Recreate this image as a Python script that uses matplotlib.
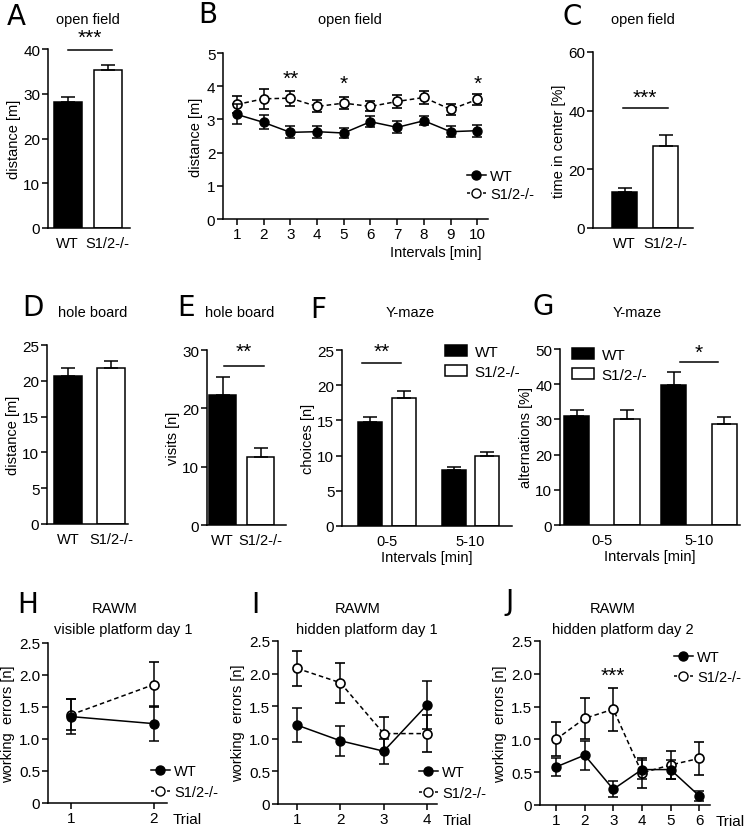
import numpy as np
import matplotlib.pyplot as plt
from matplotlib.patches import Patch
from matplotlib.lines import Line2D

plt.rcParams['font.family'] = ['Liberation Sans', 'DejaVu Sans']
plt.rcParams['font.size'] = 10.5
plt.rcParams['axes.linewidth'] = 1.1

# ---- data ----
groups = ["WT", "S1/2-/-"]
a_mean = [28.2, 35.3]
a_err = [1.0, 1.2]

b_int = list(range(1, 11))
b_wt = [3.15, 2.91, 2.61, 2.63, 2.59, 2.93, 2.76, 2.96, 2.63, 2.66]
b_wt_err = [0.30, 0.21, 0.18, 0.18, 0.15, 0.17, 0.18, 0.14, 0.17, 0.18]
b_ko = [3.45, 3.62, 3.64, 3.39, 3.49, 3.39, 3.54, 3.66, 3.30, 3.60]
b_ko_err = [0.26, 0.30, 0.23, 0.18, 0.19, 0.15, 0.19, 0.20, 0.16, 0.17]

c_mean = [12.2, 28.1]
c_err = [1.4, 3.6]

d_mean = [20.7, 21.8]
d_err = [1.1, 1.0]

e_mean = [22.3, 11.7]
e_err = [3.0, 1.5]

ym_int = ["0-5", "5-10"]
f_wt = [14.8, 7.9]
f_wt_err = [0.75, 0.45]
f_ko = [18.2, 9.95]
f_ko_err = [1.0, 0.55]

g_wt = [30.9, 39.7]
g_wt_err = [1.9, 3.7]
g_ko = [30.0, 28.7]
g_ko_err = [2.7, 1.9]

h_trial = [1, 2]
h_wt = [1.35, 1.24]
h_wt_err = [0.27, 0.27]
h_ko = [1.38, 1.85]
h_ko_err = [0.24, 0.35]

i_trial = [1, 2, 3, 4]
i_wt = [1.21, 0.97, 0.81, 1.52]
i_wt_err = [0.26, 0.23, 0.19, 0.37]
i_ko = [2.08, 1.86, 1.08, 1.08]
i_ko_err = [0.27, 0.31, 0.26, 0.28]

j_trial = [1, 2, 3, 4, 5, 6]
j_wt = [0.58, 0.76, 0.24, 0.54, 0.54, 0.14]
j_wt_err = [0.14, 0.22, 0.12, 0.15, 0.15, 0.08]
j_ko = [1.0, 1.32, 1.46, 0.49, 0.61, 0.71]
j_ko_err = [0.26, 0.31, 0.33, 0.23, 0.22, 0.25]

W, H = 745, 828
fig = plt.figure(figsize=(W / 100, H / 100), dpi=100)

FS = 10.5


def px_axes(l, t, r, b):
    return fig.add_axes([l / W, 1 - b / H, (r - l) / W, (b - t) / H])


def ftext(x, y, s, **kw):
    fig.text(x / W, 1 - y / H, s, **kw)


def style(ax, xticks=False):
    for s in ['top', 'right']:
        ax.spines[s].set_visible(False)
    ax.tick_params(axis='y', direction='out', length=4, width=1.1, pad=1.5, labelsize=11)
    if xticks:
        ax.tick_params(axis='x', direction='out', length=4, width=1.1, pad=2, labelsize=11)
    else:
        ax.tick_params(axis='x', length=0, pad=6, labelsize=FS)


def sig(ax, x0, x1, y, ys, stars):
    ax.plot([x0, x1], [y, y], color='k', lw=1.1, clip_on=False)
    ax.text((x0 + x1) / 2, ys, stars, ha='center', va='center', fontsize=15, clip_on=False)


def two_bars(ax, mean, err, width, xlim, ylim, yticks, ylabel):
    x = np.arange(len(mean))
    ax.bar(x, mean, width=width, color=['black', 'white'], edgecolor='black', linewidth=1.1, zorder=2)
    ax.errorbar(x, mean, yerr=[np.zeros(len(err)), err], fmt='none', ecolor='k',
                elinewidth=1.1, capsize=5, capthick=1.1, zorder=3)
    ax.set_xticks(x)
    ax.set_xticklabels(groups)
    ax.set_xlim(*xlim)
    ax.set_ylim(*ylim)
    ax.set_yticks(yticks)
    ax.set_ylabel(ylabel, fontsize=FS, labelpad=2)
    style(ax)


def grouped_bars(ax, wt, wt_err, ko, ko_err, off, width, xlim, ylim, yticks, ylabel):
    x = np.arange(len(wt))
    ax.bar(x - off, wt, width=width, color='black', edgecolor='black', linewidth=1.1, zorder=2, label='WT')
    ax.bar(x + off, ko, width=width, color='white', edgecolor='black', linewidth=1.1, zorder=2, label='S1/2-/-')
    ax.errorbar(x - off, wt, yerr=[np.zeros(len(wt)), wt_err], fmt='none', ecolor='k',
                elinewidth=1.1, capsize=5, capthick=1.1, zorder=3)
    ax.errorbar(x + off, ko, yerr=[np.zeros(len(ko)), ko_err], fmt='none', ecolor='k',
                elinewidth=1.1, capsize=5, capthick=1.1, zorder=3)
    ax.set_xticks(x)
    ax.set_xticklabels(ym_int)
    ax.set_xlim(*xlim)
    ax.set_ylim(*ylim)
    ax.set_yticks(yticks)
    ax.set_ylabel(ylabel, fontsize=FS, labelpad=2)
    ax.set_xlabel('Intervals [min]', fontsize=FS, labelpad=1)
    style(ax)


def lines(ax, x, wt, wt_err, ko, ko_err, cap=3.5):
    ax.errorbar(x, ko, yerr=ko_err, color='k', lw=1.1, ls=(0, (3, 2)), marker='o', ms=6.5,
                mfc='white', mec='k', mew=1.2, capsize=cap, capthick=1.1, elinewidth=1.1,
                zorder=3, clip_on=False, label='S1/2-/-')
    ax.errorbar(x, wt, yerr=wt_err, color='k', lw=1.1, marker='o', ms=6.5, mfc='k', mec='k',
                capsize=cap, capthick=1.1, elinewidth=1.1, zorder=4, clip_on=False, label='WT')


def line_legend(ax, l, t, spacing=0.4):
    handles = [Line2D([], [], color='k', lw=1.1, marker='o', ms=6.5, mfc='k'),
               Line2D([], [], color='k', lw=1.1, ls=(0, (2, 1.5)), marker='o', ms=6.5, mfc='white')]
    ax.legend(handles, ['WT', 'S1/2-/-'], loc='upper left', bbox_to_anchor=(l / W, 1 - t / H),
              bbox_transform=fig.transFigure, frameon=False, handlelength=1.3, handletextpad=0.3,
              labelspacing=spacing, borderpad=0, borderaxespad=0, fontsize=FS, numpoints=1)


def bar_legend(ax, l, t):
    handles = [Patch(facecolor='black', edgecolor='black', lw=1.1),
               Patch(facecolor='white', edgecolor='black', lw=1.1)]
    ax.legend(handles, ['WT', 'S1/2-/-'], loc='upper left', bbox_to_anchor=(l / W, 1 - t / H),
              bbox_transform=fig.transFigure, frameon=False, handlelength=1.45, handleheight=0.75,
              handletextpad=0.5, labelspacing=0.4, borderpad=0, borderaxespad=0, fontsize=11)


letter_kw = dict(fontsize=20, family='DejaVu Sans', ha='center', va='center')
title_kw = dict(fontsize=FS, ha='center', va='center')

# ---- A ----
ax = px_axes(48, 50, 130, 229)
two_bars(ax, a_mean, a_err, 0.7, (-0.49, 1.56), (0, 40), [0, 10, 20, 30, 40], 'distance [m]')
sig(ax, 0.0, 1.1, 39.7, 42.5, '***')
ftext(16, 17, 'A', **letter_kw)
ftext(88, 20, 'open field', **title_kw)

# ---- B ----
ax = px_axes(223, 54, 488, 220)
lines(ax, b_int, b_wt, b_wt_err, b_ko, b_ko_err)
ax.set_xlim(0.48, 10.4)
ax.set_ylim(0, 5)
ax.set_xticks(b_int)
ax.set_yticks([0, 1, 2, 3, 4, 5])
ax.set_ylabel('distance [m]', fontsize=FS, labelpad=3)
style(ax, xticks=True)
ax.annotate('Intervals [min]', xy=(0.975, 0), xycoords='axes fraction', xytext=(0, -19),
            textcoords='offset points', ha='right', va='top', fontsize=FS)
for xs, ys, st in [(3, 4.25, '**'), (5, 4.1, '*'), (10, 4.1, '*')]:
    ax.text(xs, ys, st, ha='center', va='center', fontsize=15)
line_legend(ax, 467, 170, spacing=0.25)
ftext(208, 15, 'B', **letter_kw)
ftext(350, 20, 'open field', **title_kw)

# ---- C ----
ax = px_axes(593, 53, 693, 229)
two_bars(ax, c_mean, c_err, 0.6, (-0.77, 1.67), (0, 60), [0, 20, 40, 60], 'time in center [%]')
sig(ax, -0.05, 1.05, 40.9, 44.6, '***')
ftext(572, 17, 'C', **letter_kw)
ftext(643, 20, 'open field', **title_kw)

# ---- D ----
ax = px_axes(47, 346, 128, 525)
two_bars(ax, d_mean, d_err, 0.67, (-0.49, 1.4), (0, 25), [0, 5, 10, 15, 20, 25], 'distance [m]')
ftext(33, 308, 'D', **letter_kw)
ftext(93, 313, 'hole board', **title_kw)

# ---- E ----
ax = px_axes(207, 351, 286, 526)
two_bars(ax, e_mean, e_err, 0.72, (-0.41, 1.67), (0, 30), [0, 10, 20, 30], 'visits [n]')
sig(ax, 0.05, 1.08, 27.3, 29.8, '**')
ftext(186, 308, 'E', **letter_kw)
ftext(240, 313, 'hole board', **title_kw)

# ---- F ----
ax = px_axes(342, 351, 512, 527)
grouped_bars(ax, f_wt, f_wt_err, f_ko, f_ko_err, 0.2, 0.29, (-0.54, 1.5), (0, 25),
             [0, 5, 10, 15, 20, 25], 'choices [n]')
sig(ax, -0.3, 0.17, 23.2, 24.8, '**')
bar_legend(ax, 445, 346)
ftext(318, 310, 'F', **letter_kw)
ftext(410, 313, 'Y-maze', **title_kw)

# ---- G ----
ax = px_axes(560, 350, 740, 526)
grouped_bars(ax, g_wt, g_wt_err, g_ko, g_ko_err, 0.26, 0.26, (-0.43, 1.42), (0, 50),
             [0, 10, 20, 30, 40, 50], 'alternations [%]')
sig(ax, 0.8, 1.19, 46.4, 49.0, '*')
bar_legend(ax, 572, 349)
ftext(543, 307, 'G', **letter_kw)
ftext(637, 313, 'Y-maze', **title_kw)

# ---- H, I, J ----
err_ticks = [0, 0.5, 1.0, 1.5, 2.0, 2.5]
err_labels = ['0', '0.5', '1.0', '1.5', '2.0', '2.5']
panels = [
    ((48, 644, 167, 804), h_trial, h_wt, h_wt_err, h_ko, h_ko_err, (0.72, 2.16),
     'H', (28, 605), 'visible platform day 1', (115, 123), (151, 765), 0.5),
    ((278, 642, 437, 805), i_trial, i_wt, i_wt_err, i_ko, i_ko_err, (0.56, 4.23),
     'I', (255, 605), 'hidden platform day 1', (358, 367), (419, 766), 0.5),
    ((540, 642, 710, 806), j_trial, j_wt, j_wt_err, j_ko, j_ko_err, (0.44, 6.38),
     'J', (510, 602), 'hidden platform day 2', (613, 623), (674, 651), 0.4),
]
for box, xt, wt, wte, ko, koe, xl, let, lpos, sub, tx, lg, sp in panels:
    ax = px_axes(*box)
    lines(ax, xt, wt, wte, ko, koe)
    ax.set_xlim(*xl)
    ax.set_ylim(0, 2.5)
    ax.set_xticks(xt)
    ax.set_yticks(err_ticks)
    ax.set_yticklabels(err_labels)
    ax.set_ylabel('working  errors [n]', fontsize=FS, labelpad=3)
    style(ax, xticks=True)
    ax.annotate('Trial', xy=(1, 0), xycoords='axes fraction', xytext=(4, -6.5),
                textcoords='offset points', ha='left', va='top', fontsize=11)
    line_legend(ax, lg[0], lg[1], spacing=sp)
    ftext(lpos[0], lpos[1], let, **letter_kw)
    ftext(tx[0], 609, 'RAWM', **title_kw)
    ftext(tx[1], 630, sub, **title_kw)
    if let == 'J':
        ax.text(3, 1.97, '***', ha='center', va='center', fontsize=15)

fig.savefig('out.png', dpi=100)
